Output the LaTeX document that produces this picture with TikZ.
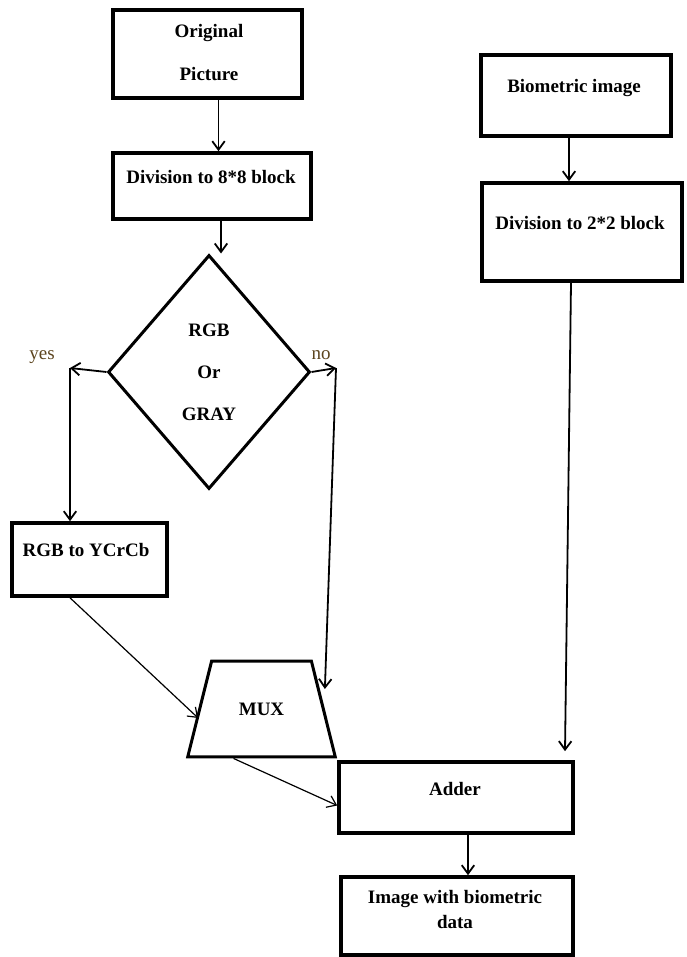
\documentclass[tikz,border=0pt]{standalone}
\usepackage{fontspec}
\setmainfont{Liberation Serif}
\usetikzlibrary{arrows.meta,shapes.geometric}
\definecolor{labelbrown}{RGB}{92,68,30}

\begin{document}
\begin{tikzpicture}[
  x=0.5pt, y=-0.5pt,
  box/.style={draw, line width=1.8pt, inner sep=0pt},
  tag/.style={font=\bfseries\fontsize{9.5}{11}\selectfont, align=center, inner sep=0pt},
  branch/.style={font=\fontsize{9.5}{11}\selectfont, text=labelbrown, inner sep=0pt},
  decision/.style={diamond, draw, line width=1.5pt, minimum width=101pt, minimum height=117pt,
    inner sep=0pt, align=center, font=\bfseries\fontsize{9.5}{11}\selectfont},
  mux/.style={trapezium, trapezium left angle=76, trapezium right angle=76,
    draw, line width=1.5pt, inner xsep=13.6pt, inner ysep=20.8pt,
    font=\bfseries\fontsize{9.5}{11}\selectfont},
  arrow/.style={-{Straight Barb[length=1.5mm,width=2.2mm]}, line width=0.9pt},
  thinarrow/.style={-{Straight Barb[length=1.5mm,width=2.2mm]}, line width=0.6pt}
]
\useasboundingbox (0,0) rectangle (686,957);

% left column
\node[box, minimum width=94.5pt, minimum height=44pt] (orig) at (207.5,54) {};
\node[tag] (orig-txt) at (209,52.5) {Original\\[10.5pt]Picture};
\node[box, minimum width=99pt, minimum height=33pt] (div8) at (212,186) {};
\node[tag] (div8-txt) at (211,177) {Division to 8*8 block};
\node[decision] (dec) at (209,372) {RGB\\[10pt]Or\\[10pt]GRAY};
\node[box, minimum width=77.5pt, minimum height=36.5pt] (rgb) at (89.5,559.5) {};
\node[tag] (rgb-txt) at (86,550) {RGB to YCrCb};
\node[mux] (mux) at (261.5,709) {MUX};

% right column
\node[box, minimum width=95pt, minimum height=40.5pt] (bio) at (576,95.5) {};
\node[tag] (bio-txt) at (574,88) {Biometric image};
\node[box, minimum width=100pt, minimum height=49pt] (div2) at (582,232) {};
\node[tag] (div2-txt) at (580,223) {Division to 2*2 block};
\node[box, minimum width=117pt, minimum height=35.5pt] (adder) at (456,797.5) {};
\node[tag] (adder-txt) at (455,789) {Adder};
\node[box, minimum width=116pt, minimum height=39pt] (out) at (457,916) {};
\node[tag] (out-txt) at (455,909.5) {Image with biometric\\[1.5pt]data};

% branches
\node[branch] (yes-txt) at (42,357) {yes};
\node[branch] (no-txt) at (321,355) {no};
\coordinate (yes) at (70,368);
\coordinate (no) at (336,368);

\draw[arrow] ([xshift=5.5pt]orig.south) -- ([xshift=5.5pt]orig.south |- div8.north);
\draw[arrow] ([xshift=4.5pt]div8.south) -- ([xshift=4.5pt]div8.south |- dec.north);
\draw[arrow] (dec.west) -- (yes);
\draw[arrow] (yes) -- (yes |- rgb.north);
\draw[arrow] (dec.east) -- (no);
\draw[arrow] (no) -- ([yshift=10pt]mux.east);
\draw[thinarrow] ([xshift=-9.75pt]rgb.south) -- ([yshift=-4.5pt]mux.west);
\draw[thinarrow] ([xshift=-14pt]mux.south) -- ([yshift=-4pt]adder.west);
\draw[arrow] ([xshift=-3.5pt]bio.south) -- ([xshift=-3.5pt]bio.south |- div2.north);
\draw[arrow] ([xshift=-5.5pt]div2.south) -- ([xshift=54.5pt,yshift=4.5pt]adder.north);
\draw[arrow] ([xshift=6pt]adder.south) -- ([xshift=6pt]adder.south |- out.north);
\end{tikzpicture}
\end{document}
